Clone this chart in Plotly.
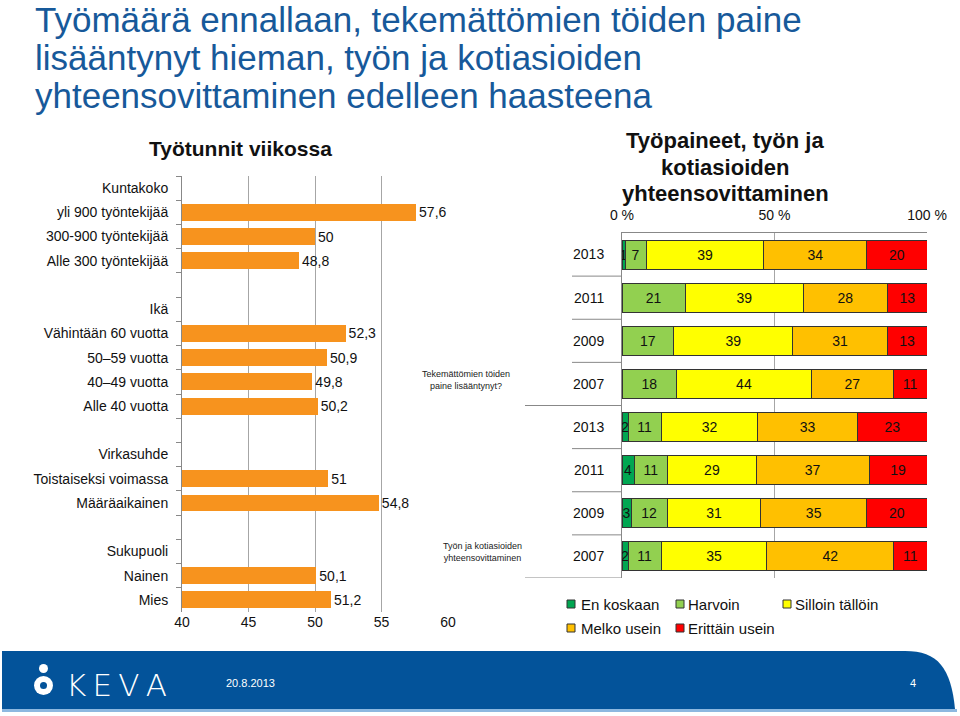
import plotly.graph_objects as go

# ---------------- data ----------------
left_title = "Työtunnit viikossa"
row_labels = ["Kuntakoko", "yli 900 työntekijää", "300-900 työntekijää", "Alle 300 työntekijää", " ",
              "Ikä", "Vähintään 60 vuotta", "50–59 vuotta", "40–49 vuotta", "Alle 40 vuotta", "  ",
              "Virkasuhde", "Toistaiseksi voimassa", "Määräaikainen", "   ",
              "Sukupuoli", "Nainen", "Mies"]
hour_labels = ["yli 900 työntekijää", "300-900 työntekijää", "Alle 300 työntekijää",
               "Vähintään 60 vuotta", "50–59 vuotta", "40–49 vuotta", "Alle 40 vuotta",
               "Toistaiseksi voimassa", "Määräaikainen", "Nainen", "Mies"]
hours = [57.6, 50, 48.8, 52.3, 50.9, 49.8, 50.2, 51, 54.8, 50.1, 51.2]
hour_ticks = [40, 45, 50, 55, 60]

right_title = ["Työpaineet, työn ja", "kotiasioiden", "yhteensovittaminen"]
groups = ["Tekemättömien töiden paine"] * 4 + ["Työn ja kotiasioiden yhteensovittaminen"] * 4
years = ["2013", "2011", "2009", "2007", "2013", "2011", "2009", "2007"]
series_names = ["En koskaan", "Harvoin", "Silloin tällöin", "Melko usein", "Erittäin usein"]
en_koskaan = [1, 0, 0, 0, 2, 4, 3, 2]
harvoin = [7, 21, 17, 18, 11, 11, 12, 11]
silloin_talloin = [39, 39, 39, 44, 32, 29, 31, 35]
melko_usein = [34, 28, 31, 27, 33, 37, 35, 42]
erittain_usein = [20, 13, 13, 11, 23, 19, 20, 11]
pct_ticks = [0, 50, 100]
pct_ticktext = ["0 %", "50 %", "100 %"]

slide_title = ["Työmäärä ennallaan, tekemättömien töiden paine",
               "lisääntynyt hieman, työn ja kotiasioiden",
               "yhteensovittaminen edelleen haasteena"]
footer_date = "20.8.2013"
page_no = "4"

# ---------------- styling ----------------
W, H = 960, 716
def px(x): return x / W
def py(y): return 1 - y / H

ORANGE = "#F7931E"
COLORS = ["#00A651", "#92D050", "#FFFF00", "#FFC000", "#FF0000"]
FONT = "Liberation Sans, Arial, sans-serif"
BLUE = "#03539A"
TITLE_BLUE = "#17599A"

fig = go.Figure()

# left chart
fig.add_trace(go.Bar(
    y=hour_labels, x=hours, orientation="h",
    marker=dict(color=ORANGE, line=dict(width=0)),
    width=0.7,
    text=[str(v).replace(".", ",") for v in hours],
    textposition="outside", cliponaxis=False,
    textfont=dict(size=14, color="#111", family=FONT),
    xaxis="x", yaxis="y", showlegend=False, hoverinfo="x+y",
))

# right chart (100 % stacked, like the original)
series = [en_koskaan, harvoin, silloin_talloin, melko_usein, erittain_usein]
totals = [sum(s[i] for s in series) for i in range(len(years))]
row_keys = [f"{g}|{i}" for i, g in enumerate(groups)]
for name, vals, col in zip(series_names, series, COLORS):
    fig.add_trace(go.Bar(
        y=row_keys, x=[v / t * 100 for v, t in zip(vals, totals)], orientation="h",
        name=name, marker=dict(color=col, line=dict(color="#333", width=1)),
        width=0.67,
        text=[str(v) if v else "" for v in vals],
        textposition="inside", insidetextanchor="middle",
        textfont=dict(size=14, color="#111", family=FONT),
        xaxis="x2", yaxis="y2", showlegend=False, hovertext=[str(v) for v in vals],
        hoverinfo="text+name",
    ))

shapes = []
annotations = []

# separators of the right chart category axis
for b in [0.5, 1.5, 2.5, 3.5, 4.5, 5.5, 6.5, 7.5]:
    x0 = 525 if b in (3.5, 7.5) else 572
    shapes.append(dict(type="line", xref="paper", yref="y2", x0=px(x0), x1=px(622), y0=b, y1=b,
                       line=dict(color="#888", width=1)))

# legend (manual, two rows like the original)
leg_pos = [(567, 604, 579), (676, 604, 686), (783, 604, 793), (567, 628, 579), (676, 628, 686)]
for name, col, (sx, sy, tx) in zip(series_names, COLORS, leg_pos):
    shapes.append(dict(type="rect", xref="paper", yref="paper",
                       x0=px(sx), x1=px(sx + 8), y0=py(sy + 4), y1=py(sy - 4),
                       fillcolor=col, line=dict(color="#333", width=1)))
    annotations.append(dict(text=name, xref="paper", yref="paper", x=px(tx), y=py(sy),
                            xanchor="left", yanchor="middle", showarrow=False,
                            font=dict(size=15, color="#111", family=FONT)))

# slide title
for i, line in enumerate(slide_title):
    annotations.append(dict(text=line, xref="paper", yref="paper", x=px(33), y=py(19 + 38.5 * i),
                            xanchor="left", yanchor="middle", showarrow=False,
                            font=dict(size=35, color=TITLE_BLUE, family=FONT)))

# chart titles
annotations.append(dict(text=f"<b>{left_title}</b>", xref="paper", yref="paper", x=px(240), y=py(148),
                        xanchor="center", yanchor="middle", showarrow=False,
                        font=dict(size=21, color="#111", family=FONT)))
for i, line in enumerate(right_title):
    annotations.append(dict(text=f"<b>{line}</b>", xref="paper", yref="paper", x=px(725), y=py(141 + 26.5 * i),
                            xanchor="center", yanchor="middle", showarrow=False,
                            font=dict(size=22, color="#111", family=FONT)))

# category group labels of the right chart (rendered small)
annotations.append(dict(text="Tekemättömien töiden<br>paine lisääntynyt?", xref="paper", yref="paper",
                        x=px(466), y=py(380), xanchor="center", yanchor="middle", showarrow=False,
                        font=dict(size=9, color="#222", family=FONT)))
annotations.append(dict(text="Työn ja kotiasioiden<br>yhteensovittaminen", xref="paper", yref="paper",
                        x=px(482), y=py(552), xanchor="center", yanchor="middle", showarrow=False,
                        font=dict(size=9, color="#222", family=FONT)))

# footer band
def P(x, y): return f"{px(x)},{py(y)}"
shapes.append(dict(type="path", xref="paper", yref="paper",
                   path=f"M{P(2,651)} L{P(905,651)} C{P(938,651)} {P(951,668)} {P(955,709)} L{P(2,709)} Z",
                   fillcolor=BLUE, line=dict(width=0)))
shapes.append(dict(type="rect", xref="paper", yref="paper", x0=px(2), x1=px(957), y0=py(712), y1=py(709),
                   fillcolor="#8DB8E0", line=dict(width=0)))
# logo figure
shapes.append(dict(type="circle", xref="paper", yref="paper", x0=px(39), x1=px(48), y0=py(673), y1=py(664),
                   fillcolor="white", line=dict(width=0)))
shapes.append(dict(type="circle", xref="paper", yref="paper", x0=px(34), x1=px(53), y0=py(695), y1=py(676),
                   fillcolor="white", line=dict(width=0)))
shapes.append(dict(type="circle", xref="paper", yref="paper", x0=px(40), x1=px(47), y0=py(689), y1=py(682),
                   fillcolor=BLUE, line=dict(width=0)))
annotations.append(dict(text="K\u2009E\u2009V\u2009A", xref="paper", yref="paper", x=px(64), y=py(685),
                        xanchor="left", yanchor="middle", showarrow=False,
                        font=dict(size=31, color="white", family="DejaVu Sans", weight=300)))
annotations.append(dict(text=footer_date, xref="paper", yref="paper", x=px(224), y=py(683),
                        xanchor="left", yanchor="middle", showarrow=False,
                        font=dict(size=11, color="white", family=FONT)))
annotations.append(dict(text=page_no, xref="paper", yref="paper", x=px(913), y=py(683),
                        xanchor="center", yanchor="middle", showarrow=False,
                        font=dict(size=11, color="white", family=FONT)))

fig.update_layout(
    width=W, height=H, margin=dict(l=0, r=0, t=0, b=0, autoexpand=False),
    paper_bgcolor="white", plot_bgcolor="rgba(0,0,0,0)",
    barmode="stack", bargap=0.3,
    uniformtext=dict(minsize=14, mode="show"),
    font=dict(family=FONT, color="#111"),
    xaxis=dict(domain=[px(182), px(448)], range=[40, 60], tickvals=hour_ticks, anchor="y",
               automargin=False,
               showgrid=True, gridcolor="#A6A6A6", gridwidth=1, zeroline=False, showline=False,
               ticks="", tickfont=dict(size=14, color="#111")),
    yaxis=dict(domain=[py(612), py(176)], type="category", categoryorder="array", categoryarray=row_labels,
               range=[len(row_labels) - 0.5, -0.5], anchor="x", tickson="boundaries", ticks="outside",
               automargin=False, ticklabelstandoff=10,
               ticklen=5, tickcolor="#888", showline=True, linecolor="#888", showgrid=False,
               tickfont=dict(size=14, color="#111")),
    xaxis2=dict(domain=[px(622), px(927)], range=[0, 100], tickvals=pct_ticks, ticktext=pct_ticktext,
                side="top", anchor="y2", showgrid=True, gridcolor="#A6A6A6", zeroline=False,
                automargin=False, ticklabelstandoff=6,
                showline=True, linecolor="#888", ticks="", tickfont=dict(size=14, color="#111")),
    yaxis2=dict(domain=[py(578), py(233)], type="category", categoryorder="array", categoryarray=row_keys,
                range=[len(row_keys) - 0.5, -0.5], anchor="x2", tickvals=row_keys, ticktext=years,
                automargin=False, ticklabelstandoff=14,
                showline=True, linecolor="#888", showgrid=False, ticks="",
                tickfont=dict(size=14, color="#111")),
    shapes=shapes, annotations=annotations,
)

fig.write_html("out.html", config={"displayModeBar": False},
               post_script="document.body.style.margin='0';document.body.style.overflow='hidden';")
